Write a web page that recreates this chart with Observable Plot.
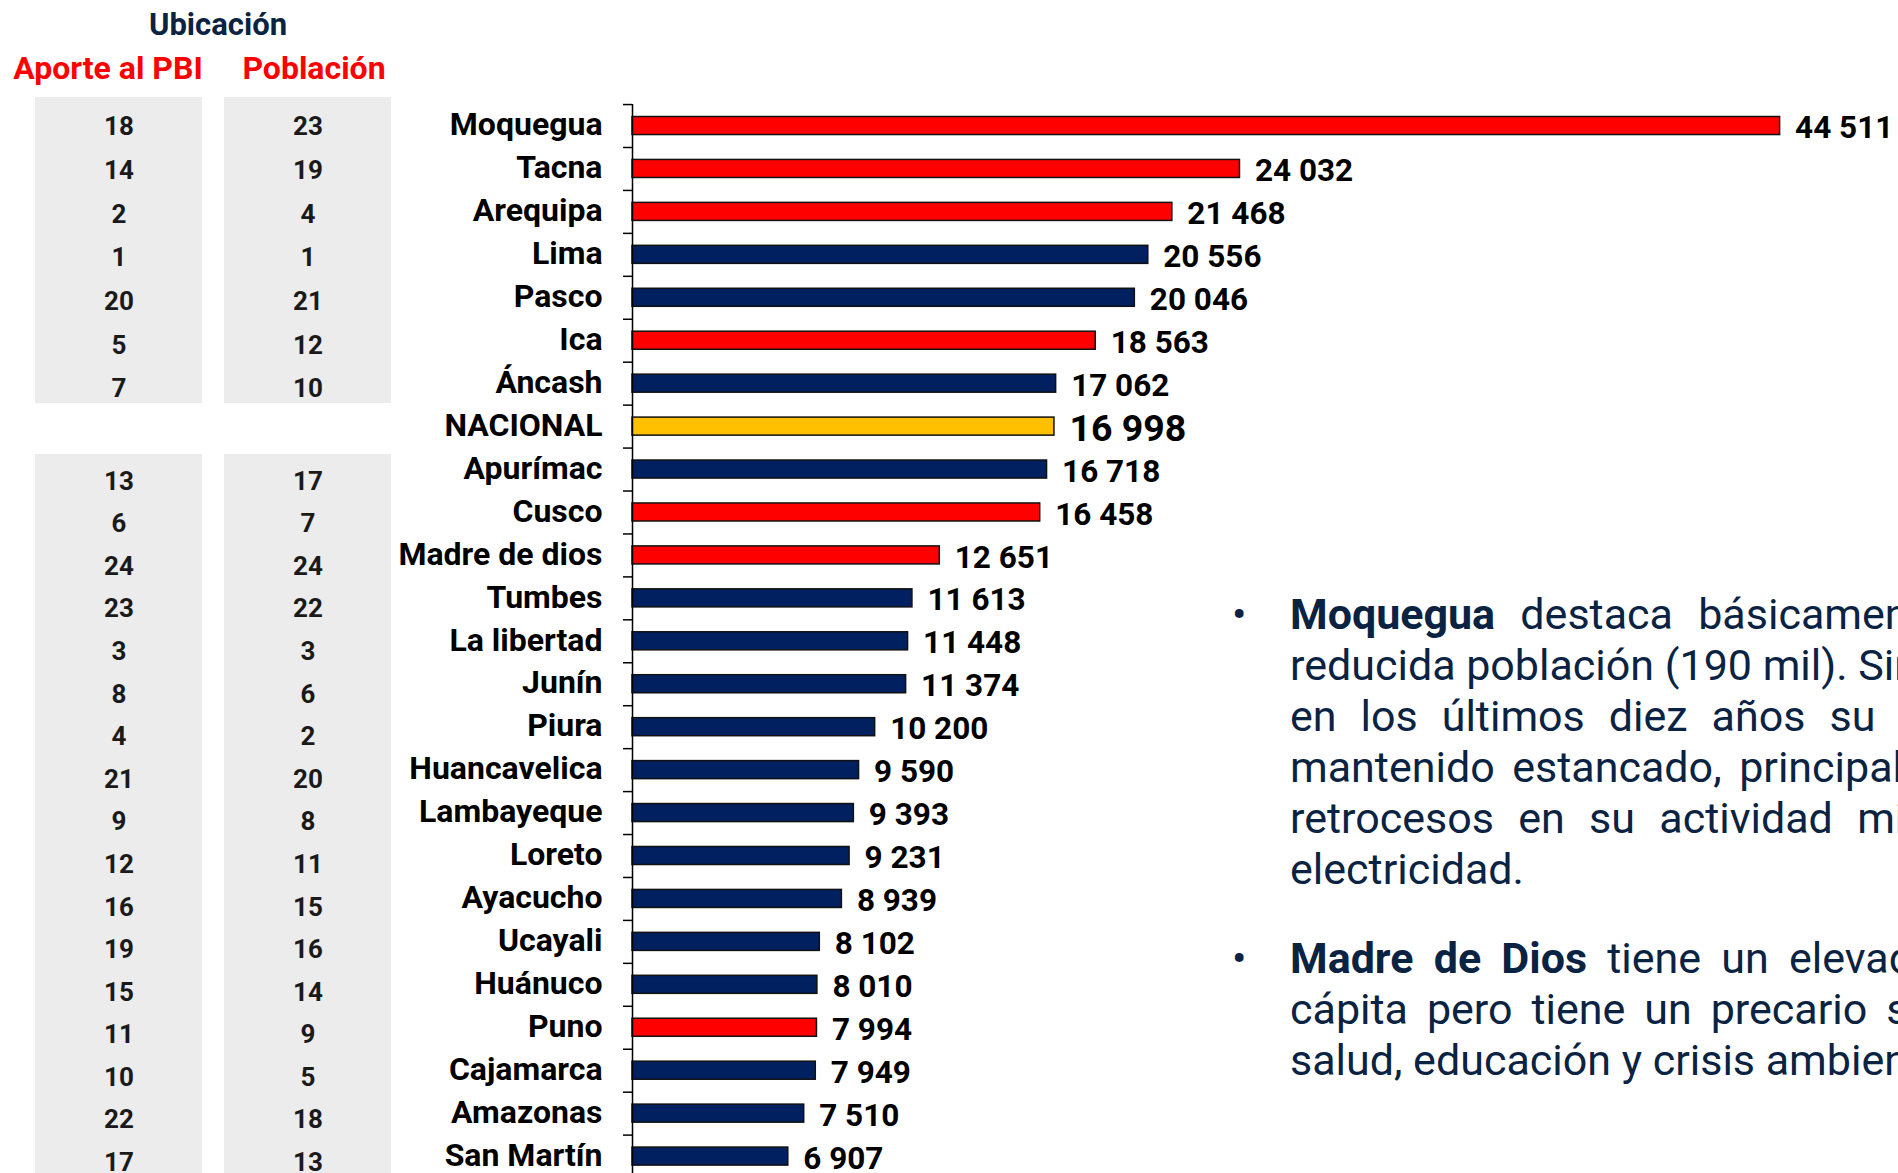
<!DOCTYPE html>
<html>
<head>
<meta charset="utf-8">
<script src="https://cdn.jsdelivr.net/npm/d3@7"></script>
<script src="https://cdn.jsdelivr.net/npm/@observablehq/plot@0.6"></script>
<style>
  html, body { margin: 0; padding: 0; background: #ffffff; }
  #page { position: relative; width: 1898px; height: 1173px; overflow: hidden; font-family: Roboto, sans-serif; }
  .abs { position: absolute; }
  .abs svg { display: block; }
  .para { position: absolute; left: 1290px; width: 815px; color: #0b2343; font-size: 43px; line-height: 51px; }
  .ln { height: 51px; overflow: hidden; text-align: justify; text-align-last: justify; }
  .ln.last { text-align: left; text-align-last: left; }
  .ln.nat { text-align: left; text-align-last: left; white-space: nowrap; overflow: visible; }
  .ln b { font-weight: 700; }
  .bul { position: absolute; left: -58px; top: 0; }
</style>
</head>
<body>
<div id="page">
  <div id="head" class="abs" style="left:0;top:0"></div>
  <div id="tab1" class="abs" style="left:0;top:97px"></div>
  <div id="tab2" class="abs" style="left:0;top:454px"></div>
  <div id="chart" class="abs" style="left:0;top:0"></div>
  <div class="para" style="top:589px">
    <div class="bul">•</div>
    <div class="ln"><b>Moquegua</b> destaca básicamente por su</div>
    <div class="ln nat">reducida población (190 mil). Sin embargo,</div>
    <div class="ln">en los últimos diez años su PBI se ha</div>
    <div class="ln">mantenido estancado, principalmente por</div>
    <div class="ln">retrocesos en su actividad minera y de</div>
    <div class="ln last">electricidad.</div>
  </div>
  <div class="para" style="top:933px">
    <div class="bul">•</div>
    <div class="ln"><b>Madre de Dios</b> tiene un elevado PBI per</div>
    <div class="ln">cápita pero tiene un precario sistema de</div>
    <div class="ln last">salud, educación y crisis ambiental.</div>
  </div>
</div>
<script>
// ---------- data ----------
const regions = ["Moquegua","Tacna","Arequipa","Lima","Pasco","Ica","Áncash","NACIONAL","Apurímac","Cusco","Madre de dios","Tumbes","La libertad","Junín","Piura","Huancavelica","Lambayeque","Loreto","Ayacucho","Ucayali","Huánuco","Puno","Cajamarca","Amazonas","San Martín"];
const gdpPerCapita = [44511,24032,21468,20556,20046,18563,17062,16998,16718,16458,12651,11613,11448,11374,10200,9590,9393,9231,8939,8102,8010,7994,7949,7510,6907];
const zone = ["Sur","Sur","Sur","Resto","Resto","Sur","Resto","Nacional","Resto","Sur","Sur","Resto","Resto","Resto","Resto","Resto","Resto","Resto","Resto","Resto","Resto","Sur","Resto","Resto","Resto"];
const rankAporte = [18,14,2,1,20,5,7,null,13,6,24,23,3,8,4,21,9,12,16,19,15,11,10,22,17];
const rankPoblacion = [23,19,4,1,21,12,10,null,17,7,24,22,3,6,2,20,8,11,15,16,14,9,5,18,13];
const tableTitle = "Ubicación";
const tableColumns = ["Aporte al PBI","Población"];
const zoneNames = ["Sur","Resto","Nacional"];
const zoneColors = ["#FF0000","#002060","#FFC000"];
const xDomain = [1000, 49000];

const rows = regions.map((r, i) => ({region: r, value: gdpPerCapita[i], zone: zone[i], aporte: rankAporte[i], pob: rankPoblacion[i]}));
const fmt = d3.formatLocale({decimal: ",", thousands: " ", grouping: [3], currency: ["", ""]}).format(",d");
const FONT = "Roboto, sans-serif";

// ---------- header ----------
const NS = "http://www.w3.org/2000/svg";
const head = document.createElementNS(NS, "svg");
head.setAttribute("width", 420); head.setAttribute("height", 95);
const headItems = [
  {t: tableTitle, x: 218, y: 35, size: 31, fill: "#0b2343"},
  {t: tableColumns[0], x: 108, y: 79, size: 32, fill: "#FF0000"},
  {t: tableColumns[1], x: 314, y: 79, size: 32, fill: "#FF0000"}
];
for (const h of headItems) {
  const t = document.createElementNS(NS, "text");
  t.setAttribute("x", h.x); t.setAttribute("y", h.y);
  t.setAttribute("text-anchor", "middle");
  t.setAttribute("font-family", FONT); t.setAttribute("font-weight", "bold");
  t.setAttribute("font-size", h.size); t.setAttribute("fill", h.fill);
  t.textContent = h.t;
  head.appendChild(t);
}
document.getElementById("head").appendChild(head);

// ---------- ranking table ----------
function tablePlot(sub, h, dy) {
  const cells = sub.flatMap(d => [
    {region: d.region, col: tableColumns[0], v: d.aporte},
    {region: d.region, col: tableColumns[1], v: d.pob}
  ]);
  return Plot.plot({
    width: 400, height: h,
    marginLeft: 35, marginRight: 9, marginTop: 0, marginBottom: 0,
    style: {fontFamily: FONT, background: "transparent"},
    x: {domain: tableColumns, paddingInner: 0.116, paddingOuter: 0, round: false, axis: null},
    y: {domain: sub.map(d => d.region), padding: 0, round: false, axis: null},
    marks: [
      Plot.cell(cells, {x: "col", y: "region", fill: "#ececec", inset: 0, shapeRendering: "crispEdges"}),
      Plot.text(cells, {x: "col", y: "region", text: "v", fontSize: 26, fontWeight: "bold", fill: "#1a1a1a", dy})
    ]
  });
}
const natIdx = regions.indexOf("NACIONAL");
document.getElementById("tab1").appendChild(tablePlot(rows.slice(0, natIdx), 306, 7.5));
document.getElementById("tab2").appendChild(tablePlot(rows.slice(natIdx + 1), 724, 5.5));

// ---------- bar chart ----------
const P = 0.58;
const H = 1190, MT = 91.6, MB = 0;
const step = (H - MT - MB) / (regions.length + P);
const chart = Plot.plot({
  width: 1898, height: H,
  marginTop: MT, marginBottom: MB, marginLeft: 632, marginRight: 0,
  style: {fontFamily: FONT, background: "transparent", overflow: "visible"},
  x: {domain: xDomain, clamp: true, axis: null},
  y: {domain: regions, padding: P, round: false},
  color: {domain: zoneNames, range: zoneColors},
  marks: [
    Plot.barX(rows, {x: "value", y: "region", fill: "zone", stroke: "#111", strokeWidth: 1.5}),
    Plot.ruleX([xDomain[0]], {stroke: "#000", strokeWidth: 1.5, insetTop: (P / 2) * step}),
    Plot.axisY({tickSize: 9, tickFormat: () => "", label: null, dy: -step / 2, stroke: "#000", strokeWidth: 1.5}),
    Plot.text(rows, {y: "region", text: "region", frameAnchor: "left", textAnchor: "end", dx: -30, dy: -1, fontSize: 32, fontWeight: "bold", fill: "#000"}),
    Plot.text(rows, {x: "value", y: "region", text: d => fmt(d.value), textAnchor: "start", dx: 15, dy: 2,
      fontSize: d => d.zone === "Nacional" ? 37.5 : 31.5, fontWeight: "bold", fill: "#000"})
  ]
});
document.getElementById("chart").appendChild(chart);
</script>
</body>
</html>
